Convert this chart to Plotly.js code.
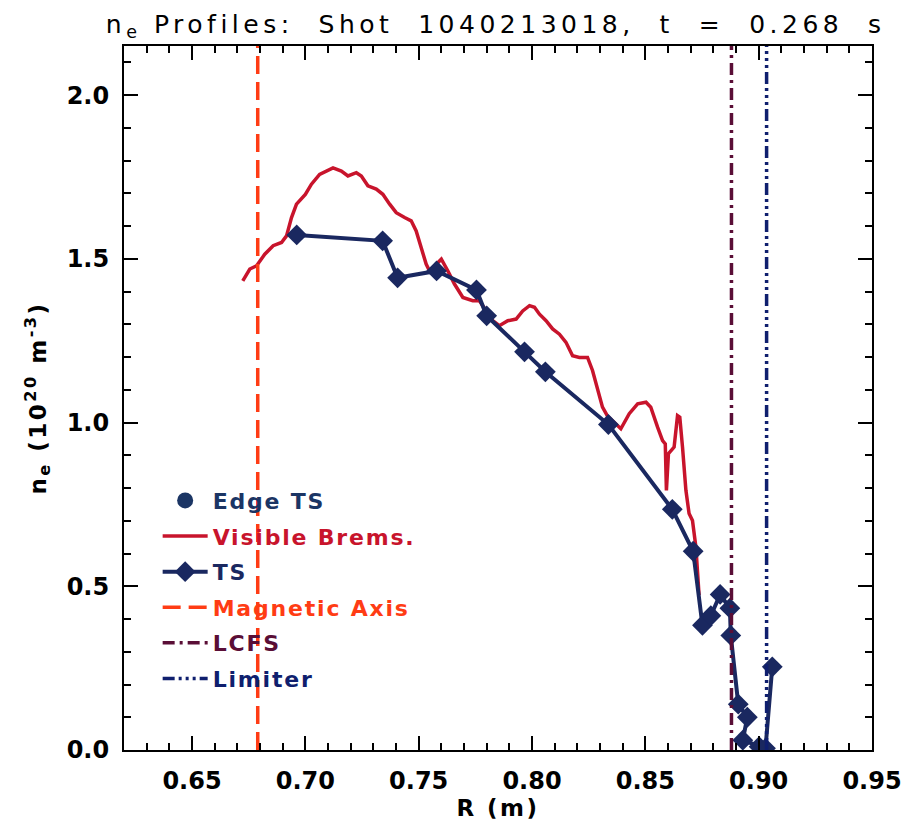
<!DOCTYPE html>
<html>
<head>
<meta charset="utf-8">
<script src="https://cdn.plot.ly/plotly-3.0.1.min.js"></script>
<style>
html,body{margin:0;padding:0;background:#fff;}
#chart{width:902px;height:827px;}
.gtitle{letter-spacing:4.5px;}
.legendtext{letter-spacing:1.8px;}
.xtitle,.ytitle{letter-spacing:2.5px;}
</style>
</head>
<body>
<div id="chart"></div>
<script>
// Visible bremsstrahlung profile
const bremsR = [0.6724,0.6755,0.6785,0.6821,0.6858,0.6895,0.6917,0.6939,0.6961,0.7000,0.7027,0.7063,0.7122,0.7159,0.7188,0.7225,0.7247,0.7276,0.7313,0.7342,0.7372,0.7401,0.7438,0.7467,0.7489,0.7511,0.7533,0.7548,0.7578,0.7600,0.7629,0.7658,0.7695,0.7739,0.7768,0.7798,0.7827,0.7856,0.7893,0.7930,0.7959,0.7989,0.8011,0.8033,0.8062,0.8091,0.8121,0.8150,0.8179,0.8209,0.8245,0.8267,0.8289,0.8311,0.8332,0.8356,0.8392,0.8429,0.8466,0.8503,0.8524,0.8554,0.8576,0.8588,0.8593,0.8602,0.8627,0.8642,0.8652,0.8664,0.8679,0.8693,0.8708,0.8723,0.8730,0.8737];
const bremsNe = [1.433,1.469,1.479,1.514,1.540,1.550,1.570,1.626,1.667,1.697,1.728,1.758,1.778,1.768,1.753,1.763,1.753,1.723,1.713,1.697,1.667,1.641,1.626,1.616,1.585,1.534,1.484,1.463,1.484,1.499,1.463,1.423,1.382,1.372,1.372,1.341,1.311,1.296,1.311,1.316,1.341,1.357,1.352,1.331,1.311,1.286,1.270,1.245,1.204,1.199,1.199,1.159,1.098,1.047,1.021,1.006,0.981,1.027,1.057,1.062,1.047,0.986,0.945,0.935,0.793,0.905,0.925,1.021,1.016,0.925,0.793,0.722,0.701,0.620,0.549,0.473];
// Thomson scattering points
const tsR = [0.6962,0.7341,0.7407,0.7579,0.7755,0.7800,0.7967,0.8059,0.8337,0.8619,0.8711,0.8752,0.8789,0.8830,0.8873,0.8877,0.8910,0.8950,0.8930,0.9002,0.9030,0.9060];
const tsNe = [1.573,1.555,1.442,1.463,1.405,1.326,1.216,1.155,0.994,0.735,0.607,0.381,0.410,0.475,0.433,0.350,0.140,0.100,0.030,0.010,0.005,0.254];
// Reference radii
const magAxisR = 0.679;
const lcfsR = 0.888;
const limiterR = 0.9035;
const xRange = [0.62, 0.95];
const yRange = [0, 2.15];
const xTicks = [0.65,0.70,0.75,0.80,0.85,0.90,0.95];
const yTicks = [0.0,0.5,1.0,1.5,2.0];

const cBrems = '#c8142c', cTS = '#1a2860', cMag = '#ff3c14', cLcfs = '#5a0e36', cLim = '#0f1f6e', cEdge = '#1b3564';

const traces = [
  {x:[null], y:[null], mode:'markers', legendgroup:'g1', name:'<span style="color:'+cEdge+'">Edge TS</span>',
   marker:{symbol:'circle', size:16, color:cEdge}},
  {x:bremsR, y:bremsNe, mode:'lines', legendgroup:'g2', name:'<span style="color:'+cBrems+'">Visible Brems.</span>',
   line:{color:cBrems, width:3.5}},
  {x:tsR, y:tsNe, mode:'lines+markers', legendgroup:'g3', name:'<span style="color:'+cTS+'">TS</span>',
   line:{color:cTS, width:4}, marker:{symbol:'diamond', size:16, color:cTS}},
  {x:[magAxisR, magAxisR], y:yRange, mode:'lines', legendgroup:'g4', name:'<span style="color:'+cMag+'">Magnetic Axis</span>',
   line:{color:cMag, width:3.5, dash:'18px,8px'}},
  {x:[lcfsR, lcfsR], y:yRange, mode:'lines', legendgroup:'g5', name:'<span style="color:'+cLcfs+'">LCFS</span>',
   line:{color:cLcfs, width:3.5, dash:'12px,5px,3px,5px'}},
  {x:[limiterR, limiterR], y:yRange, mode:'lines', legendgroup:'g6', name:'<span style="color:'+cLim+'">Limiter</span>',
   line:{color:cLim, width:3.5, dash:'12px,4px,3px,4px,3px,4px,3px,4px'}}
];

const axBase = {showline:true, linecolor:'#000', linewidth:2, mirror:'ticks', ticks:'inside',
  tickcolor:'#000', tickwidth:2, showgrid:false, zeroline:false, ticklabelstandoff:8, ticklabeloverflow:'allow',
  tickfont:{family:'DejaVu Sans', size:24, color:'#000', weight:'bold'}};

const layout = {
  width:902, height:827,
  margin:{l:124, r:30, t:46, b:77},
  paper_bgcolor:'#fff', plot_bgcolor:'#fff',
  showlegend:true,
  title:{text:'n<sub>e</sub> Profiles:  Shot  1040213018,  t  =  0.268  s', xref:'paper', x:0.497, xanchor:'center', y:0.981, yanchor:'top',
    font:{family:'DejaVu Sans', size:25, color:'#000'}},
  xaxis:Object.assign({}, axBase, {range:xRange, tickvals:xTicks, ticktext:xTicks.map(v=>v.toFixed(2)), ticklen:14,
    minor:{dtick:0.01, ticklen:7, tickcolor:'#000', tickwidth:1.5, ticks:'inside'},
    title:{text:'R (m)', standoff:3, font:{family:'DejaVu Sans', size:23, color:'#000', weight:'bold'}}}),
  yaxis:Object.assign({}, axBase, {range:yRange, tickvals:yTicks, ticktext:yTicks.map(v=>v.toFixed(1)), ticklen:14,
    minor:{dtick:0.1, ticklen:7, tickcolor:'#000', tickwidth:1.5, ticks:'inside'},
    title:{text:'n<sub>e</sub> (10<sup>20</sup> m<sup>-3</sup>)', standoff:14, font:{family:'DejaVu Sans', size:23, color:'#000', weight:'bold'}}}),
  legend:{x:0.045, y:0.384, xanchor:'left', yanchor:'top', bgcolor:'rgba(0,0,0,0)', itemwidth:45,
    tracegroupgap:4, font:{family:'DejaVu Sans', size:22, weight:'bold'}}
};

Plotly.newPlot('chart', traces, layout, {displayModeBar:false});
</script>
</body>
</html>
